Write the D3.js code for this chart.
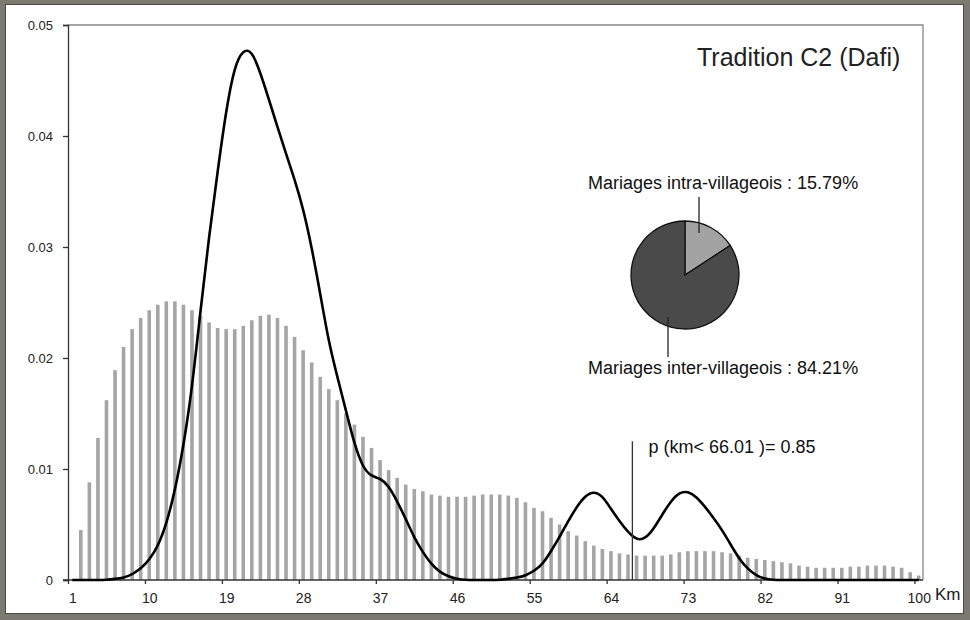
<!DOCTYPE html>
<html>
<head>
<meta charset="utf-8">
<script src="https://cdn.jsdelivr.net/npm/d3@7"></script>
<style>
  html, body { margin: 0; padding: 0; background: #7a7a70; }
  svg { display: block; font-family: "Liberation Sans", Arial, sans-serif; }
  .axis-y text { font-size: 13px; fill: #222; }
  .axis-x text { font-size: 14px; fill: #222; font-family: "Liberation Sans Narrow", "Liberation Sans", Arial, sans-serif; }
  .axis-x path, .axis-x line, .axis-y path, .axis-y line { stroke: #333; stroke-width: 1.3; }
</style>
</head>
<body>
<div id="chart"></div>
<script>
// bar heights, one per km (1..100)
var barValues = [
  0, .0045, .0088, .0128, .0162, .0189, .0210, .0226, .0236, .0243,
  .0248, .0251, .0251, .0248, .0243, .0238, .0232, .0227, .0226, .0226,
  .0229, .0234, .0238, .0239, .0236, .0229, .0219, .0207, .0196, .0183,
  .0172, .0162, .0150, .0140, .0129, .0119, .0108, .0099, .0092, .0086,
  .0082, .0080, .0077, .0076, .0075, .0075, .0075, .0076, .0077, .0077,
  .0077, .0076, .0074, .0070, .0065, .0062, .0056, .0050, .0044, .0040,
  .0035, .0031, .0028, .0026, .0024, .0023, .0022, .0022, .0022, .0022,
  .0023, .0025, .0026, .0026, .0026, .0026, .0025, .0024, .0022, .0020,
  .0019, .0018, .0017, .0016, .0015, .0013, .0012, .0011, .0011, .0011,
  .0011, .0012, .0012, .0013, .0013, .0013, .0012, .0011, .0007, .0004
];
// density curve, one value per km (1..100)
var curveValues = [
  0, 0, 0, 0, 0, .0001, .0002, .0005, .0010, .0018,
  .0030, .0050, .0080, .0120, .0172, .0243, .0310, .0368, .0424, .0464,
  .0478, .0477, .0457, .0433, .0408, .0384, .0361, .0335, .0300, .0258,
  .0214, .0183, .0153, .0122, .0101, .0093, .0092, .0085, .0071, .0055,
  .0038, .0025, .0014, .0007, .0003, .0001, 0, 0, 0, 0,
  0, .0001, .0002, .0004, .0008, .0014, .0026, .0039, .0053, .0066,
  .0076, .0080, .0076, .0064, .0053, .0043, .0036, .0037, .0046, .0059,
  .0071, .0079, .0080, .0075, .0066, .0056, .0045, .0032, .0019, .0010,
  .0004, .0001, 0, 0, 0, 0, 0, 0, 0, 0,
  0, 0, 0, 0, 0, 0, 0, 0, 0, 0
];
var xTickLabels = [1, 10, 19, 28, 37, 46, 55, 64, 73, 82, 91, 100];
var yTicks = [0, 0.01, 0.02, 0.03, 0.04, 0.05];
var pieLabels = ['Mariages intra-villageois', 'Mariages inter-villageois'];
var pieValues = [15.79, 84.21];
var pKm = 66.01, pProb = 0.85;
var title = 'Tradition C2 (Dafi)';

var W = 970, H = 620;
var svg = d3.select('#chart').append('svg')
    .attr('width', W)
    .attr('height', H);

svg.append('rect')
    .attr('x', 5.5).attr('y', 4.5)
    .attr('width', 958).attr('height', 609)
    .attr('fill', '#fff')
    .attr('stroke', '#4a4a44');

var x = d3.scaleLinear().domain([0, 100]).range([68, 923]);
var y = d3.scaleLinear().domain([0, 0.05]).range([580, 25]);
var bw = x(1) - x(0);

// plot frame (top and right)
svg.append('path')
    .attr('d', 'M' + x(0) + ',' + y(0.05) + 'H' + x(100) + 'V' + y(0))
    .attr('fill', 'none')
    .attr('stroke', '#888')
    .attr('stroke-width', 1.3);

// bars
svg.append('g').selectAll('rect')
    .data(barValues)
    .join('rect')
    .attr('x', (d, i) => x(i + 0.5) - 1.8)
    .attr('width', 3.6)
    .attr('y', d => y(d))
    .attr('height', d => y(0) - y(d))
    .attr('fill', '#a5a5a5');

// axes
svg.append('g')
    .attr('class', 'axis-y')
    .attr('transform', 'translate(' + x(0) + ',0)')
    .call(d3.axisLeft(y).tickValues(yTicks).tickSize(5).tickPadding(10)
        .tickFormat(d => d === 0 ? '0' : d.toFixed(2)));

var gx = svg.append('g')
    .attr('class', 'axis-x')
    .attr('transform', 'translate(0,' + y(0) + ')')
    .call(d3.axisBottom(x).tickValues(xTickLabels.map(k => k - 1)).tickSize(4).tickPadding(9)
        .tickSizeOuter(0)
        .tickFormat(d => d + 1));
gx.selectAll('.tick text').attr('dx', bw / 2);
gx.select('.domain').attr('d', 'M' + (x(0) - 5) + ',0H' + x(100));

svg.append('text')
    .attr('x', x(100) + 12)
    .attr('y', y(0) + 20)
    .attr('font-size', 17)
    .attr('fill', '#222')
    .text('Km');

// density curve
var line = d3.line()
    .curve(d3.curveBasis)
    .x((d, i) => x(i + 0.5))
    .y(d => y(d));

svg.append('path')
    .datum(curveValues)
    .attr('d', line)
    .attr('fill', 'none')
    .attr('stroke', '#000')
    .attr('stroke-width', 2.6);

// threshold marker
svg.append('line')
    .attr('x1', x(pKm)).attr('x2', x(pKm))
    .attr('y1', y(0.0125)).attr('y2', y(0))
    .attr('stroke', '#333')
    .attr('stroke-width', 1.3);
svg.append('text')
    .attr('x', x(pKm) + 16)
    .attr('y', y(0.0114))
    .attr('font-size', 18)
    .attr('fill', '#111')
    .text('p (km< ' + pKm + ' )= ' + pProb);

// title
svg.append('text')
    .attr('x', 697)
    .attr('y', 66)
    .attr('font-size', 25)
    .attr('fill', '#222')
    .text(title);

// pie
var cx = 685, cy = 275, r = 54;
var arcs = d3.pie().sort(null)(pieValues);
var arc = d3.arc().innerRadius(0).outerRadius(r);
var pie = svg.append('g').attr('transform', 'translate(' + cx + ',' + cy + ')');
pie.selectAll('path')
    .data(arcs)
    .join('path')
    .attr('d', arc)
    .attr('fill', (d, i) => i === 0 ? '#a3a3a3' : '#4a4a4a')
    .attr('stroke', '#111')
    .attr('stroke-width', 1.3);

pie.append('line')
    .attr('x1', 14).attr('x2', 14)
    .attr('y1', -78).attr('y2', -42)
    .attr('stroke', '#222').attr('stroke-width', 1.3);
pie.append('line')
    .attr('x1', -17).attr('x2', -17)
    .attr('y1', 42).attr('y2', 82)
    .attr('stroke', '#222').attr('stroke-width', 1.3);

pie.append('text')
    .attr('x', -97).attr('y', -86)
    .attr('font-size', 18).attr('fill', '#111')
    .text(pieLabels[0] + ' : ' + pieValues[0].toFixed(2) + '%');
pie.append('text')
    .attr('x', -97).attr('y', 99)
    .attr('font-size', 18).attr('fill', '#111')
    .text(pieLabels[1] + ' : ' + pieValues[1].toFixed(2) + '%');
</script>
</body>
</html>
